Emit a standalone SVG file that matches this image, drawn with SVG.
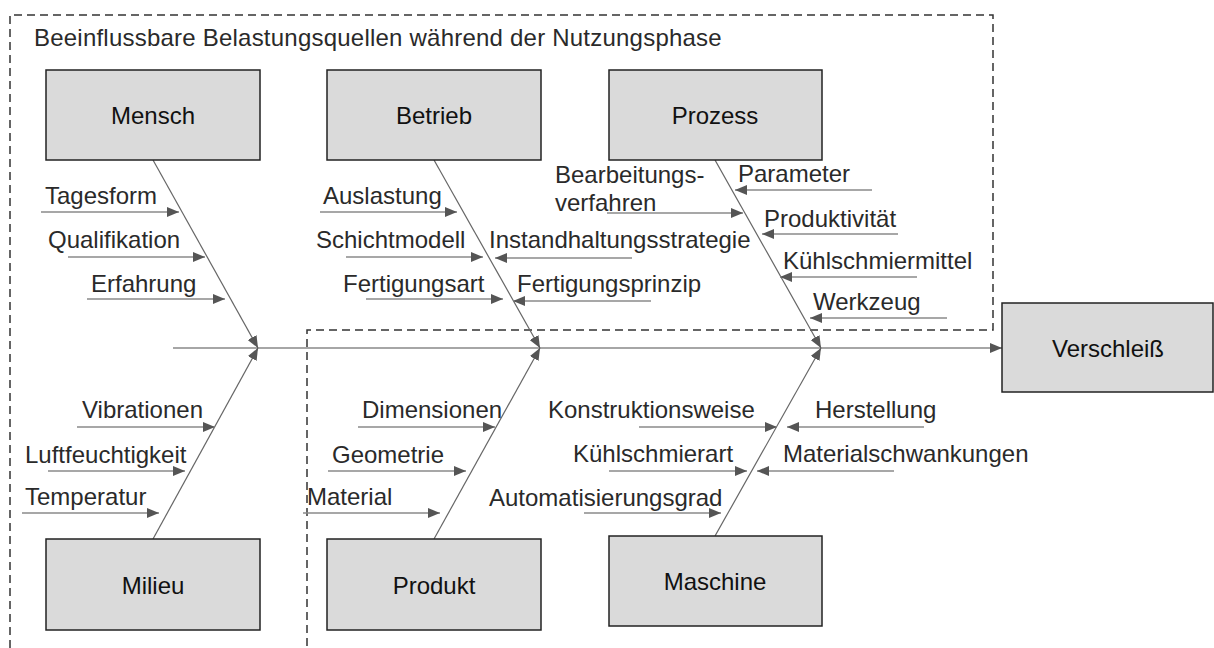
<svg xmlns="http://www.w3.org/2000/svg" width="1214" height="648" viewBox="0 0 1214 648">
<style>
.box{fill:#dadada;stroke:#222;stroke-width:1.5}
.bt{font-family:"Liberation Sans",Arial,sans-serif;font-size:24px;fill:#111;text-anchor:middle}
.lb{font-family:"Liberation Sans",Arial,sans-serif;font-size:24px;fill:#2a2a2a}
.bone{stroke:#666;stroke-width:1.2;fill:none}
.spine{stroke:#888;stroke-width:1.6;fill:none}
.la{stroke:#8a8a8a;stroke-width:1.6;fill:none}
.dash{stroke:#333;stroke-width:1.5;stroke-dasharray:8,5;fill:none}
</style>
<defs>
<marker id="ah" viewBox="0 0 12 10" refX="12" refY="5" markerWidth="12" markerHeight="10" orient="auto" markerUnits="userSpaceOnUse">
<path d="M0,0 L12,5 L0,10 z" fill="#555"/>
</marker>
</defs>
<rect width="1214" height="648" fill="#fff"/>
<path class="dash" d="M10,648 L10,15 L993,15 L993,330 L307,330 L307,648"/>
<text class="lb" x="34" y="46" letter-spacing="0.22">Beeinflussbare Belastungsquellen während der Nutzungsphase</text>

<g id="connectors">
<line class="spine" x1="173" y1="348" x2="1002" y2="348" marker-end="url(#ah)"/>
<line class="bone" x1="153" y1="160" x2="258" y2="348" marker-end="url(#ah)"/>
<line class="bone" x1="434" y1="160" x2="540" y2="348" marker-end="url(#ah)"/>
<line class="bone" x1="715" y1="160" x2="821" y2="348" marker-end="url(#ah)"/>
<line class="bone" x1="153" y1="539" x2="258" y2="348" marker-end="url(#ah)"/>
<line class="bone" x1="434" y1="539" x2="540" y2="348" marker-end="url(#ah)"/>
<line class="bone" x1="715" y1="536" x2="821" y2="348" marker-end="url(#ah)"/>

<line class="la" x1="41" y1="212" x2="179" y2="212" marker-end="url(#ah)"/>
<line class="la" x1="68" y1="257" x2="205" y2="257" marker-end="url(#ah)"/>
<line class="la" x1="87" y1="299" x2="225" y2="299" marker-end="url(#ah)"/>
<line class="la" x1="320" y1="212" x2="457" y2="212" marker-end="url(#ah)"/>
<line class="la" x1="346" y1="257" x2="483" y2="257" marker-end="url(#ah)"/>
<line class="la" x1="366" y1="299" x2="503" y2="299" marker-end="url(#ah)"/>
<line class="la" x1="632" y1="258" x2="495" y2="258" marker-end="url(#ah)"/>
<line class="la" x1="651" y1="301" x2="513" y2="301" marker-end="url(#ah)"/>
<line class="la" x1="607" y1="213" x2="743" y2="213" marker-end="url(#ah)"/>
<line class="la" x1="872" y1="190" x2="735" y2="190" marker-end="url(#ah)"/>
<line class="la" x1="898" y1="234" x2="762" y2="234" marker-end="url(#ah)"/>
<line class="la" x1="917" y1="277" x2="780" y2="277" marker-end="url(#ah)"/>
<line class="la" x1="947" y1="318" x2="810" y2="318" marker-end="url(#ah)"/>
<line class="la" x1="77" y1="427" x2="215" y2="427" marker-end="url(#ah)"/>
<line class="la" x1="48" y1="471" x2="185" y2="471" marker-end="url(#ah)"/>
<line class="la" x1="22" y1="513" x2="159" y2="513" marker-end="url(#ah)"/>
<line class="la" x1="358" y1="427" x2="495" y2="427" marker-end="url(#ah)"/>
<line class="la" x1="328" y1="471" x2="466" y2="471" marker-end="url(#ah)"/>
<line class="la" x1="303" y1="513" x2="440" y2="513" marker-end="url(#ah)"/>
<line class="la" x1="639" y1="427" x2="777" y2="427" marker-end="url(#ah)"/>
<line class="la" x1="609" y1="471" x2="747" y2="471" marker-end="url(#ah)"/>
<line class="la" x1="584" y1="513" x2="721" y2="513" marker-end="url(#ah)"/>
<line class="la" x1="924" y1="427" x2="787" y2="427" marker-end="url(#ah)"/>
<line class="la" x1="894" y1="471" x2="757" y2="471" marker-end="url(#ah)"/>
</g>

<g id="labels">
<text class="lb" x="45" y="204">Tagesform</text>
<text class="lb" x="48" y="248">Qualifikation</text>
<text class="lb" x="91" y="292">Erfahrung</text>
<text class="lb" x="323" y="204">Auslastung</text>
<text class="lb" x="316" y="248">Schichtmodell</text>
<text class="lb" x="343" y="292">Fertigungsart</text>
<text class="lb" x="489" y="248">Instandhaltungsstrategie</text>
<text class="lb" x="517" y="292">Fertigungsprinzip</text>
<text class="lb" x="555" y="183">Bearbeitungs-</text>
<text class="lb" x="555" y="211">verfahren</text>
<text class="lb" x="738" y="182">Parameter</text>
<text class="lb" x="764" y="227">Produktivität</text>
<text class="lb" x="783" y="269">Kühlschmiermittel</text>
<text class="lb" x="813" y="310">Werkzeug</text>
<text class="lb" x="82" y="418">Vibrationen</text>
<text class="lb" x="25" y="463">Luftfeuchtigkeit</text>
<text class="lb" x="25" y="505">Temperatur</text>
<text class="lb" x="362" y="418">Dimensionen</text>
<text class="lb" x="332" y="463">Geometrie</text>
<text class="lb" x="307" y="505">Material</text>
<text class="lb" x="548" y="418">Konstruktionsweise</text>
<text class="lb" x="573" y="462">Kühlschmierart</text>
<text class="lb" x="489" y="506">Automatisierungsgrad</text>
<text class="lb" x="815" y="418">Herstellung</text>
<text class="lb" x="783" y="462">Materialschwankungen</text>
</g>

<g id="mensch"><rect class="box" x="46" y="70" width="214" height="90"/><text class="bt" x="153" y="124">Mensch</text></g>
<g id="betrieb"><rect class="box" x="327" y="70" width="214" height="90"/><text class="bt" x="434" y="124">Betrieb</text></g>
<g id="prozess"><rect class="box" x="609" y="70" width="213" height="90"/><text class="bt" x="715" y="124">Prozess</text></g>
<g id="milieu"><rect class="box" x="46" y="539" width="214" height="91"/><text class="bt" x="153" y="594">Milieu</text></g>
<g id="produkt"><rect class="box" x="327" y="539" width="214" height="91"/><text class="bt" x="434" y="594">Produkt</text></g>
<g id="maschine"><rect class="box" x="609" y="536" width="213" height="90"/><text class="bt" x="715" y="590">Maschine</text></g>
<g id="verschleiss"><rect class="box" x="1002" y="303" width="211" height="89"/><text class="bt" x="1108" y="357">Verschleiß</text></g>
</svg>
